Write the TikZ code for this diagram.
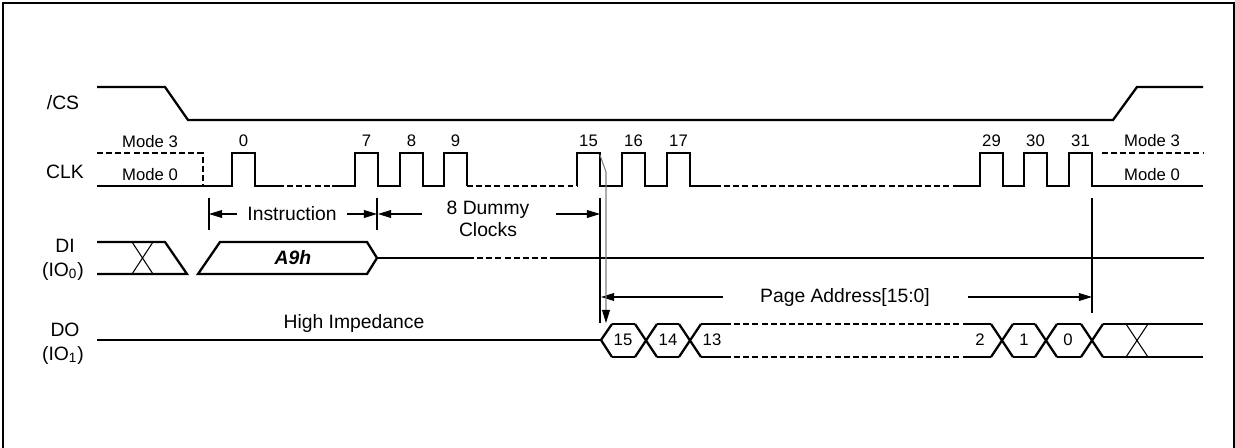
\documentclass[tikz,border=0pt]{standalone}
\usepackage{fontspec}
\setmainfont{Liberation Sans}
\usetikzlibrary{arrows.meta,positioning}

\tikzset{
  sig/.style={line width=1.3pt, line join=miter},
  dsig/.style={sig, dash pattern=on 3.4pt off 1.8pt},
  thin/.style={line width=0.6pt},
  dim/.style={thin, -{Triangle[length=7.5pt,width=4.5pt]}},
  lbl/.style={font=\fontsize{11}{12.5}\selectfont, inner sep=0pt},
  num/.style={font=\fontsize{9.5}{11}\selectfont, inner sep=0pt},
}

\begin{document}
\begin{tikzpicture}[x=0.02cm, y=-0.02cm]
  \useasboundingbox (0,0) rectangle (1235,447);
  \draw[line width=1.1pt] (3,450) -- (3,3) -- (1234,3) -- (1234,450);

  % signal names
  \node[lbl] (lcs) at (63,103) {/CS};
  \node[lbl] (lclk) at (65,172) {CLK};
  \node[lbl] (ldi) at (65,246) {DI};
  \node[lbl] (lio0) at (63,271) {(IO\textsubscript{0})};
  \node[lbl] (ldo) at (65,330) {DO};
  \node[lbl] (lio1) at (63,355) {(IO\textsubscript{1})};

  % /CS
  \draw[sig] (97,87) -- (165,87) -- (188,120) -- (1113,120) -- (1137,87) -- (1203,87);

  % CLK
  \node[num] (m3l) at (150,142) {Mode 3};
  \node[num] (m0l) at (150,175) {Mode 0};
  \node[num] (m3r) at (1152,141) {Mode 3};
  \node[num] (m0r) at (1152,175) {Mode 0};
  \draw[dsig] (97,153) -- (203,153) -- (203,186);
  \draw[dsig] (1102,153) -- (1203,153);
  \draw[sig] (97,186) foreach \s in {232} {-- (\s,186) |- (\s+23,153) -- (\s+23,186)} -- (278,186);
  \draw[sig] (332,186) foreach \s in {355,400,444} {-- (\s,186) |- (\s+23,153) -- (\s+23,186)} -- (467,186);
  \draw[sig] (577,186) foreach \s in {577,622,667} {-- (\s,186) |- (\s+23,153) -- (\s+23,186)} -- (715,186);
  \draw[sig] (957,186) foreach \s in {980,1024,1069} {-- (\s,186) |- (\s+23,153) -- (\s+23,186)} -- (1203,186);
  \draw[dsig] (278,186) -- (332,186);
  \draw[dsig] (467,186) -- (577,186);
  \draw[dsig] (715,186) -- (957,186);
  \foreach \s/\n in {232/0,355/7,400/8,444/9,577/15,622/16,667/17,980/29,1024/30,1069/31}
    \node[num] (c\n) at (\s+11.5,141) {\n};

  % DI
  \draw[sig] (97,242) -- (165,242) -- (187,274) -- (97,274);
  \draw[thin] (132,242) -- (153,274) (132,274) -- (153,242);
  \draw[sig] (198,274) -- (220,242) -- (367,242) -- (377,258) -- (367,274) -- cycle;
  \node[lbl, font=\fontsize{11}{12.5}\selectfont\bfseries\itshape] (a9h) at (293,258) {A9h};
  \draw[sig] (377,258) -- (468,258);
  \draw[dsig] (468,258) -- (555,258);
  \draw[sig] (555,258) -- (1204,258);

  % DO
  \node[lbl] (hiz) at (354,323) {High Impedance};
  \draw[sig] (97,340) -- (601,340);
  \draw[sig] (612,324) -- (601,340) -- (612,357);
  \foreach \c in {646,690,1002,1046,1092}
    \draw[sig] (\c-11,324) -- (\c+11,357) (\c-11,357) -- (\c+11,324);
  \foreach \a/\b in {612/635,657/679,701/725,965/991,1013/1035,1057/1081,1103/1203}
    \draw[sig] (\a,324) -- (\b,324) (\a,357) -- (\b,357);
  \draw[dsig] (725,324) -- (965,324) (725,357) -- (965,357);
  \draw[thin] (1126,324) -- (1148,357) (1126,357) -- (1148,324);
  \foreach \x/\n in {623/15,668/14,712/13,980/2,1024/1,1068/0}
    \node[num] (d\n) at (\x,340) {\n};

  % timing marks
  \coordinate (t0a) at (209,198);  \coordinate (t0b) at (209,230);
  \coordinate (t7a) at (377,198);  \coordinate (t7b) at (377,230);
  \coordinate (t15a) at (600,198); \coordinate (t15b) at (600,323);
  \coordinate (t31a) at (1092,198); \coordinate (t31b) at (1092,313);
  \draw[thin] (t0a) -- (t0b) (t7a) -- (t7b) (t15a) -- (t15b) (t31a) -- (t31b);

  \node[lbl] (instr) at (292,214) {Instruction};
  \node[lbl, align=center] (dummy) at (488,219) {8 Dummy\\Clocks};
  \node[lbl] (page) at (845,297) {Page Address[15:0]};
  \coordinate (i1) at (237,214); \coordinate (i2) at (347,214);
  \coordinate (u1) at (422,214); \coordinate (u2) at (556,214);
  \coordinate (p1) at (723,297); \coordinate (p2) at (968,297);
  \draw[dim] (i1) -- (t0a |- i1);
  \draw[dim] (i2) -- (t7a |- i2);
  \draw[dim] (u1) -- ([xshift=0.6pt]t7a |- u1);
  \draw[dim] (u2) -- (t15a |- u2);
  \draw[dim] (p1) -- ([xshift=0.6pt]t15a |- p1);
  \draw[dim] (p2) -- (t31a |- p2);

  % clock 15 to DO
  \coordinate (e15) at (600,155);
  \coordinate (e15b) at (606,172);
  \coordinate (d15t) at (606,323);
  \draw[thin, gray, -{Triangle[length=7.5pt,width=4.5pt,black]}] (e15) -- (e15b) -- (d15t);
\end{tikzpicture}
\end{document}
